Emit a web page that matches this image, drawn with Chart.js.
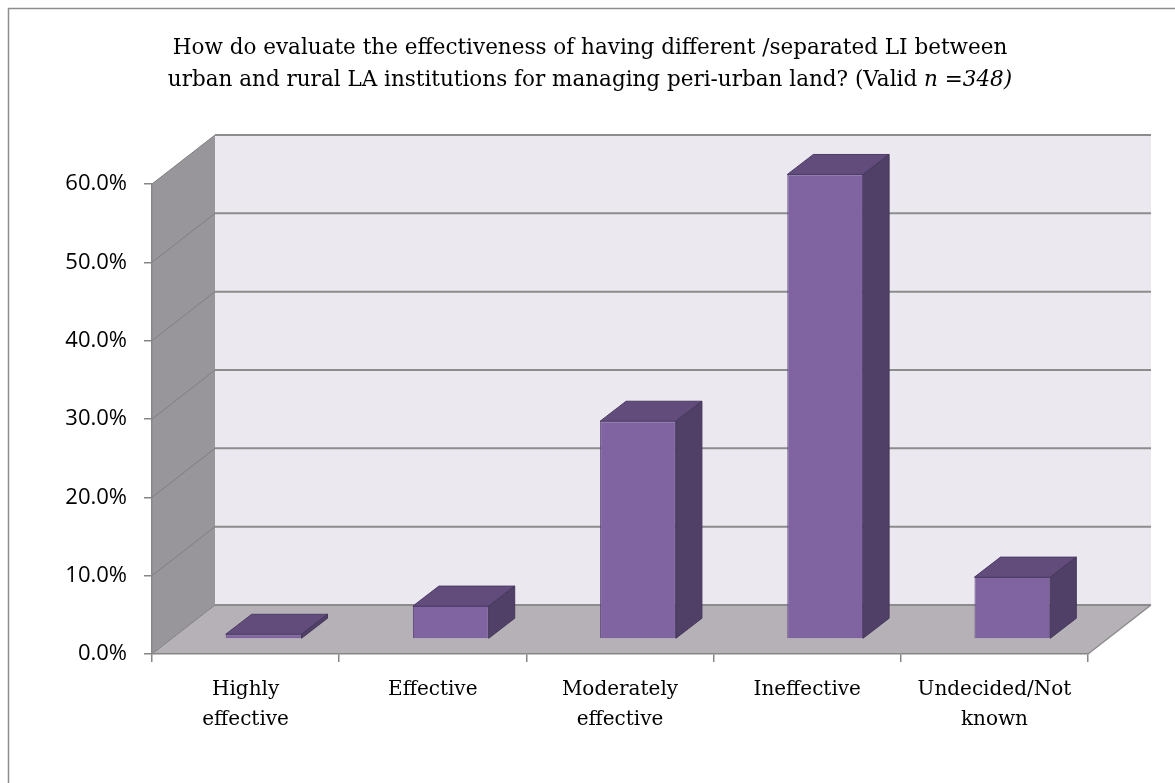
<!DOCTYPE html>
<html>
<head>
<meta charset="utf-8">
<script src="https://cdn.jsdelivr.net/npm/chart.js@4.4.1/dist/chart.umd.min.js"></script>
<style>
  html, body { margin: 0; padding: 0; background: #fff; }
  canvas { display: block; }
</style>
</head>
<body>
<canvas id="chart" width="1175" height="783"></canvas>
<script>
const categories = [["Highly", "effective"], ["Effective"], ["Moderately", "effective"], ["Ineffective"], ["Undecided/Not", "known"]];
const percentValues = [0.6, 4.2, 27.8, 59.3, 7.9];
const yTicks = [0, 10, 20, 30, 40, 50, 60];
const titleLine1 = "How do evaluate the effectiveness of having different /separated LI between";
const titleLine2 = "urban and rural LA institutions for managing peri-urban land? (Valid ";
const titleItalic = "n =348)";

// fake 3d: offset of the back wall, of the bars from the front plane, and bar depth
const depth = { dx: 63, dy: -49 };
const barShift = { dx: 18, dy: -15 };
const barDepth = { dx: 26, dy: -20 };

function poly(ctx, pts, fill, stroke) {
    ctx.beginPath();
    ctx.moveTo(pts[0][0], pts[0][1]);
    for (let i = 1; i < pts.length; i++) ctx.lineTo(pts[i][0], pts[i][1]);
    ctx.closePath();
    if (fill) { ctx.fillStyle = fill; ctx.fill(); }
    if (stroke) { ctx.strokeStyle = stroke; ctx.lineWidth = 1; ctx.stroke(); }
}

const threeD = {
    id: 'threeD',
    beforeDraw(chart) {
        const ctx = chart.ctx, y = chart.scales.y;
        const L = chart.chartArea.left, R = chart.chartArea.right;
        const T = y.getPixelForValue(yTicks[yTicks.length - 1]), B = y.getPixelForValue(0);
        const dx = depth.dx, dy = depth.dy;
        ctx.save();
        // frame (only left and top edges are visible)
        ctx.strokeStyle = '#8e8e8e';
        ctx.lineWidth = 1.5;
        ctx.beginPath();
        ctx.moveTo(8.5, chart.height);
        ctx.lineTo(8.5, 8.5);
        ctx.lineTo(chart.width, 8.5);
        ctx.stroke();
        // back wall, side wall, floor
        ctx.fillStyle = '#ebe8f0';
        ctx.fillRect(L + dx, T + dy, R - L, B - T);
        poly(ctx, [[L, T], [L + dx, T + dy], [L + dx, B + dy], [L, B]], '#98969b');
        poly(ctx, [[L, B], [R, B], [R + dx, B + dy], [L + dx, B + dy]], '#b6b1b7');
        // grid lines on the walls
        yTicks.forEach(v => {
            const py = y.getPixelForValue(v);
            ctx.strokeStyle = '#7e7e80';
            ctx.lineWidth = 1;
            ctx.beginPath();
            ctx.moveTo(L, py);
            ctx.lineTo(L + dx, py + dy);
            ctx.stroke();
            ctx.strokeStyle = '#8c8c8c';
            ctx.lineWidth = 2;
            ctx.beginPath();
            ctx.moveTo(L + dx, py + dy);
            ctx.lineTo(R + dx, py + dy);
            ctx.stroke();
        });
        ctx.strokeStyle = '#8c8c8c';
        ctx.lineWidth = 1.5;
        ctx.beginPath();
        ctx.moveTo(R, B);
        ctx.lineTo(R + dx, B + dy);
        ctx.stroke();
        ctx.restore();
    },
    beforeDatasetsDraw(chart) {
        chart.ctx.save();
        chart.ctx.translate(barShift.dx, barShift.dy);
    },
    afterDatasetsDraw(chart) {
        const ctx = chart.ctx;
        ctx.restore();
        const meta = chart.getDatasetMeta(0);
        meta.data.forEach(bar => {
            const l = bar.x - bar.width / 2 + barShift.dx, r = bar.x + bar.width / 2 + barShift.dx;
            const t = bar.y + barShift.dy, b = bar.base + barShift.dy;
            const ex = barDepth.dx, ey = barDepth.dy;
            poly(ctx, [[l, t], [r, t], [r + ex, t + ey], [l + ex, t + ey]], '#614c7c', '#4e3d66');
            poly(ctx, [[r, t], [r + ex, t + ey], [r + ex, b + ey], [r, b]], '#504068', '#45375a');
        });
    },
    afterDraw(chart) {
        const ctx = chart.ctx;
        const cx = 590;
        const f = '21.5px "DejaVu Serif"', fi = 'italic 21.5px "DejaVu Serif"';
        ctx.save();
        ctx.fillStyle = '#000';
        ctx.textBaseline = 'middle';
        ctx.textAlign = 'center';
        ctx.font = f;
        ctx.fillText(titleLine1, cx, 48);
        const w1 = ctx.measureText(titleLine2).width;
        ctx.font = fi;
        const w2 = ctx.measureText(titleItalic).width;
        const start = cx - (w1 + w2) / 2;
        ctx.textAlign = 'left';
        ctx.font = f;
        ctx.fillText(titleLine2, start, 80);
        ctx.font = fi;
        ctx.fillText(titleItalic, start + w1, 80);
        ctx.restore();
    }
};

new Chart(document.getElementById('chart'), {
    type: 'bar',
    data: {
        labels: categories,
        datasets: [{
            data: percentValues,
            backgroundColor: '#8064a2',
            borderColor: '#5c4778',
            borderWidth: 1,
            barPercentage: 0.405,
            categoryPercentage: 1,
            clip: false
        }]
    },
    options: {
        responsive: false,
        devicePixelRatio: 1,
        animation: false,
        layout: { padding: { top: 184, right: 87, left: 0, bottom: 0 } },
        plugins: { legend: { display: false }, tooltip: { enabled: false }, title: { display: false } },
        scales: {
            x: {
                afterFit: s => { s.height = 129; },
                grid: { drawOnChartArea: false, tickLength: 8, color: '#868686', lineWidth: 1.5 },
                border: { color: '#868686', width: 1.5 },
                ticks: {
                    color: '#000',
                    padding: 13,
                    maxRotation: 0,
                    font: { family: 'DejaVu Serif', size: 20, lineHeight: 1.5 }
                }
            },
            y: {
                min: 0,
                max: 60,
                afterFit: s => { s.width = 152; },
                grid: { drawOnChartArea: false, tickLength: 8, color: '#868686', lineWidth: 1.5 },
                border: { color: '#868686', width: 1.5 },
                ticks: {
                    stepSize: 10,
                    color: '#000',
                    padding: 17,
                    font: { family: 'Open Sans', size: 22 },
                    callback: v => v.toFixed(1) + '%'
                }
            }
        }
    },
    plugins: [threeD]
});
</script>
</body>
</html>
